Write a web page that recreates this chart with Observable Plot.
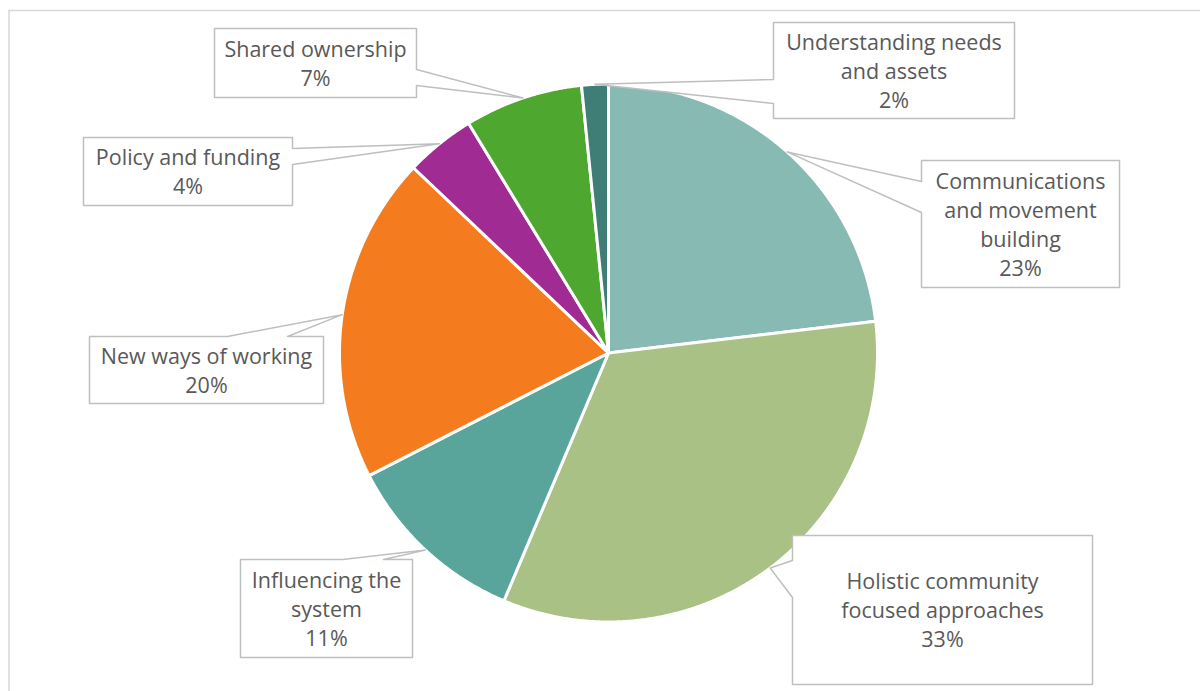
<!DOCTYPE html>
<html><head><meta charset="utf-8">
<script src="https://cdn.jsdelivr.net/npm/d3@7"></script>
<script src="https://cdn.jsdelivr.net/npm/@observablehq/plot@0.6"></script>
<style>html,body{margin:0;padding:0;background:#fff} svg{display:block}</style>
</head><body><div id="chart"></div>
<script>
// ---- data ----
const categories = [
  "Communications and movement building",
  "Holistic community focused approaches",
  "Influencing the system",
  "New ways of working",
  "Policy and funding",
  "Shared ownership",
  "Understanding needs and assets"
];
const shares = [23.1, 33.2, 11.1, 19.6, 4.2, 7.1, 1.6];
const labelLines = [
  ["Communications", "and movement", "building"],
  ["Holistic community", "focused approaches"],
  ["Influencing the", "system"],
  ["New ways of working"],
  ["Policy and funding"],
  ["Shared ownership"],
  ["Understanding needs", "and assets"]
];
const sliceColors = ["#87BAB3", "#A9C184", "#59A59B", "#F47C1E", "#A02B93", "#4EA72E", "#3F7D77"];

// ---- layout ----
const W = 1200, H = 691;
const CX = 608, CY = 352.5, R = 269;
// callout boxes [x1, y1, x2, y2], side of pointer, attach points along that side
const callouts = [
  {box: [921, 160, 1119, 287], side: "left",  at: [181, 212]},
  {box: [792, 535, 1092, 684], side: "left",  at: [560, 597]},
  {box: [240, 559, 412, 657],  side: "top",   at: [342, 383]},
  {box: [89, 336, 323, 403],   side: "top",   at: [227, 287]},
  {box: [83, 137, 292, 205],   side: "right", at: [148, 164]},
  {box: [214, 28, 416, 97],    side: "right", at: [69, 85]},
  {box: [773, 22, 1014, 118],  side: "left",  at: [79, 103]}
];

// ---- geometry from data ----
const total = d3.sum(shares);
const arcs = d3.pie().sort(null).value(d => d)(shares);
const pt = (a, r) => [CX + r * Math.sin(a), CY - r * Math.cos(a)];

const slicePts = [];
arcs.forEach((a, i) => {
  const name = categories[i];
  slicePts.push({name, x: CX, y: CY});
  const n = Math.max(2, Math.ceil((a.endAngle - a.startAngle) / 0.004));
  for (let k = 0; k <= n; k++) {
    const t = a.startAngle + (a.endAngle - a.startAngle) * k / n;
    const [x, y] = pt(t, R);
    slicePts.push({name, x, y});
  }
});

const calloutPts = [];
const labelData = [];
arcs.forEach((a, i) => {
  const c = callouts[i];
  const [x1, y1, x2, y2] = c.box;
  const mid = (a.startAngle + a.endAngle) / 2;
  const [tx, ty] = pt(mid, R);
  const p = [];
  p.push([x1, y1]);
  if (c.side === "top") { p.push([c.at[0], y1], [tx, ty], [c.at[1], y1]); }
  p.push([x2, y1]);
  if (c.side === "right") { p.push([x2, c.at[0]], [tx, ty], [x2, c.at[1]]); }
  p.push([x2, y2]);
  p.push([x1, y2]);
  if (c.side === "left") { p.push([x1, c.at[1]], [tx, ty], [x1, c.at[0]]); }
  p.forEach(([x, y]) => calloutPts.push({id: categories[i], x, y}));
  labelData.push({
    x: (x1 + x2) / 2,
    y: (y1 + y2) / 2 - 1,
    text: [...labelLines[i], Math.round(shares[i] / total * 100) + "%"].join("\n")
  });
});

const chart = Plot.plot({
  width: W, height: H,
  margin: 0,
  x: {domain: [0, W], range: [0, W], axis: null},
  y: {domain: [0, H], range: [0, H], axis: null},
  color: {domain: categories, range: sliceColors},
  style: {background: "#fff"},
  marks: [
    Plot.ruleY([10], {x1: 8, x2: W, stroke: "#D9D9D9", strokeWidth: 1.5}),
    Plot.ruleX([8.5], {y1: 10, y2: H, stroke: "#D9D9D9", strokeWidth: 1.5}),
    Plot.line(slicePts, {x: "x", y: "y", z: "name", fill: "name", stroke: "white", strokeWidth: 3, strokeLinejoin: "round", curve: "linear-closed"}),
    Plot.line(calloutPts, {x: "x", y: "y", z: "id", fill: "white", stroke: "#BFBFBF", strokeWidth: 1.5, curve: "linear-closed"}),
    Plot.text(labelData, {x: "x", y: "y", text: "text", fontSize: 21.5, lineHeight: 1.35, fill: "#595959", fontFamily: "'Open Sans', sans-serif"})
  ]
});
document.getElementById("chart").append(chart);
</script>
</body></html>
